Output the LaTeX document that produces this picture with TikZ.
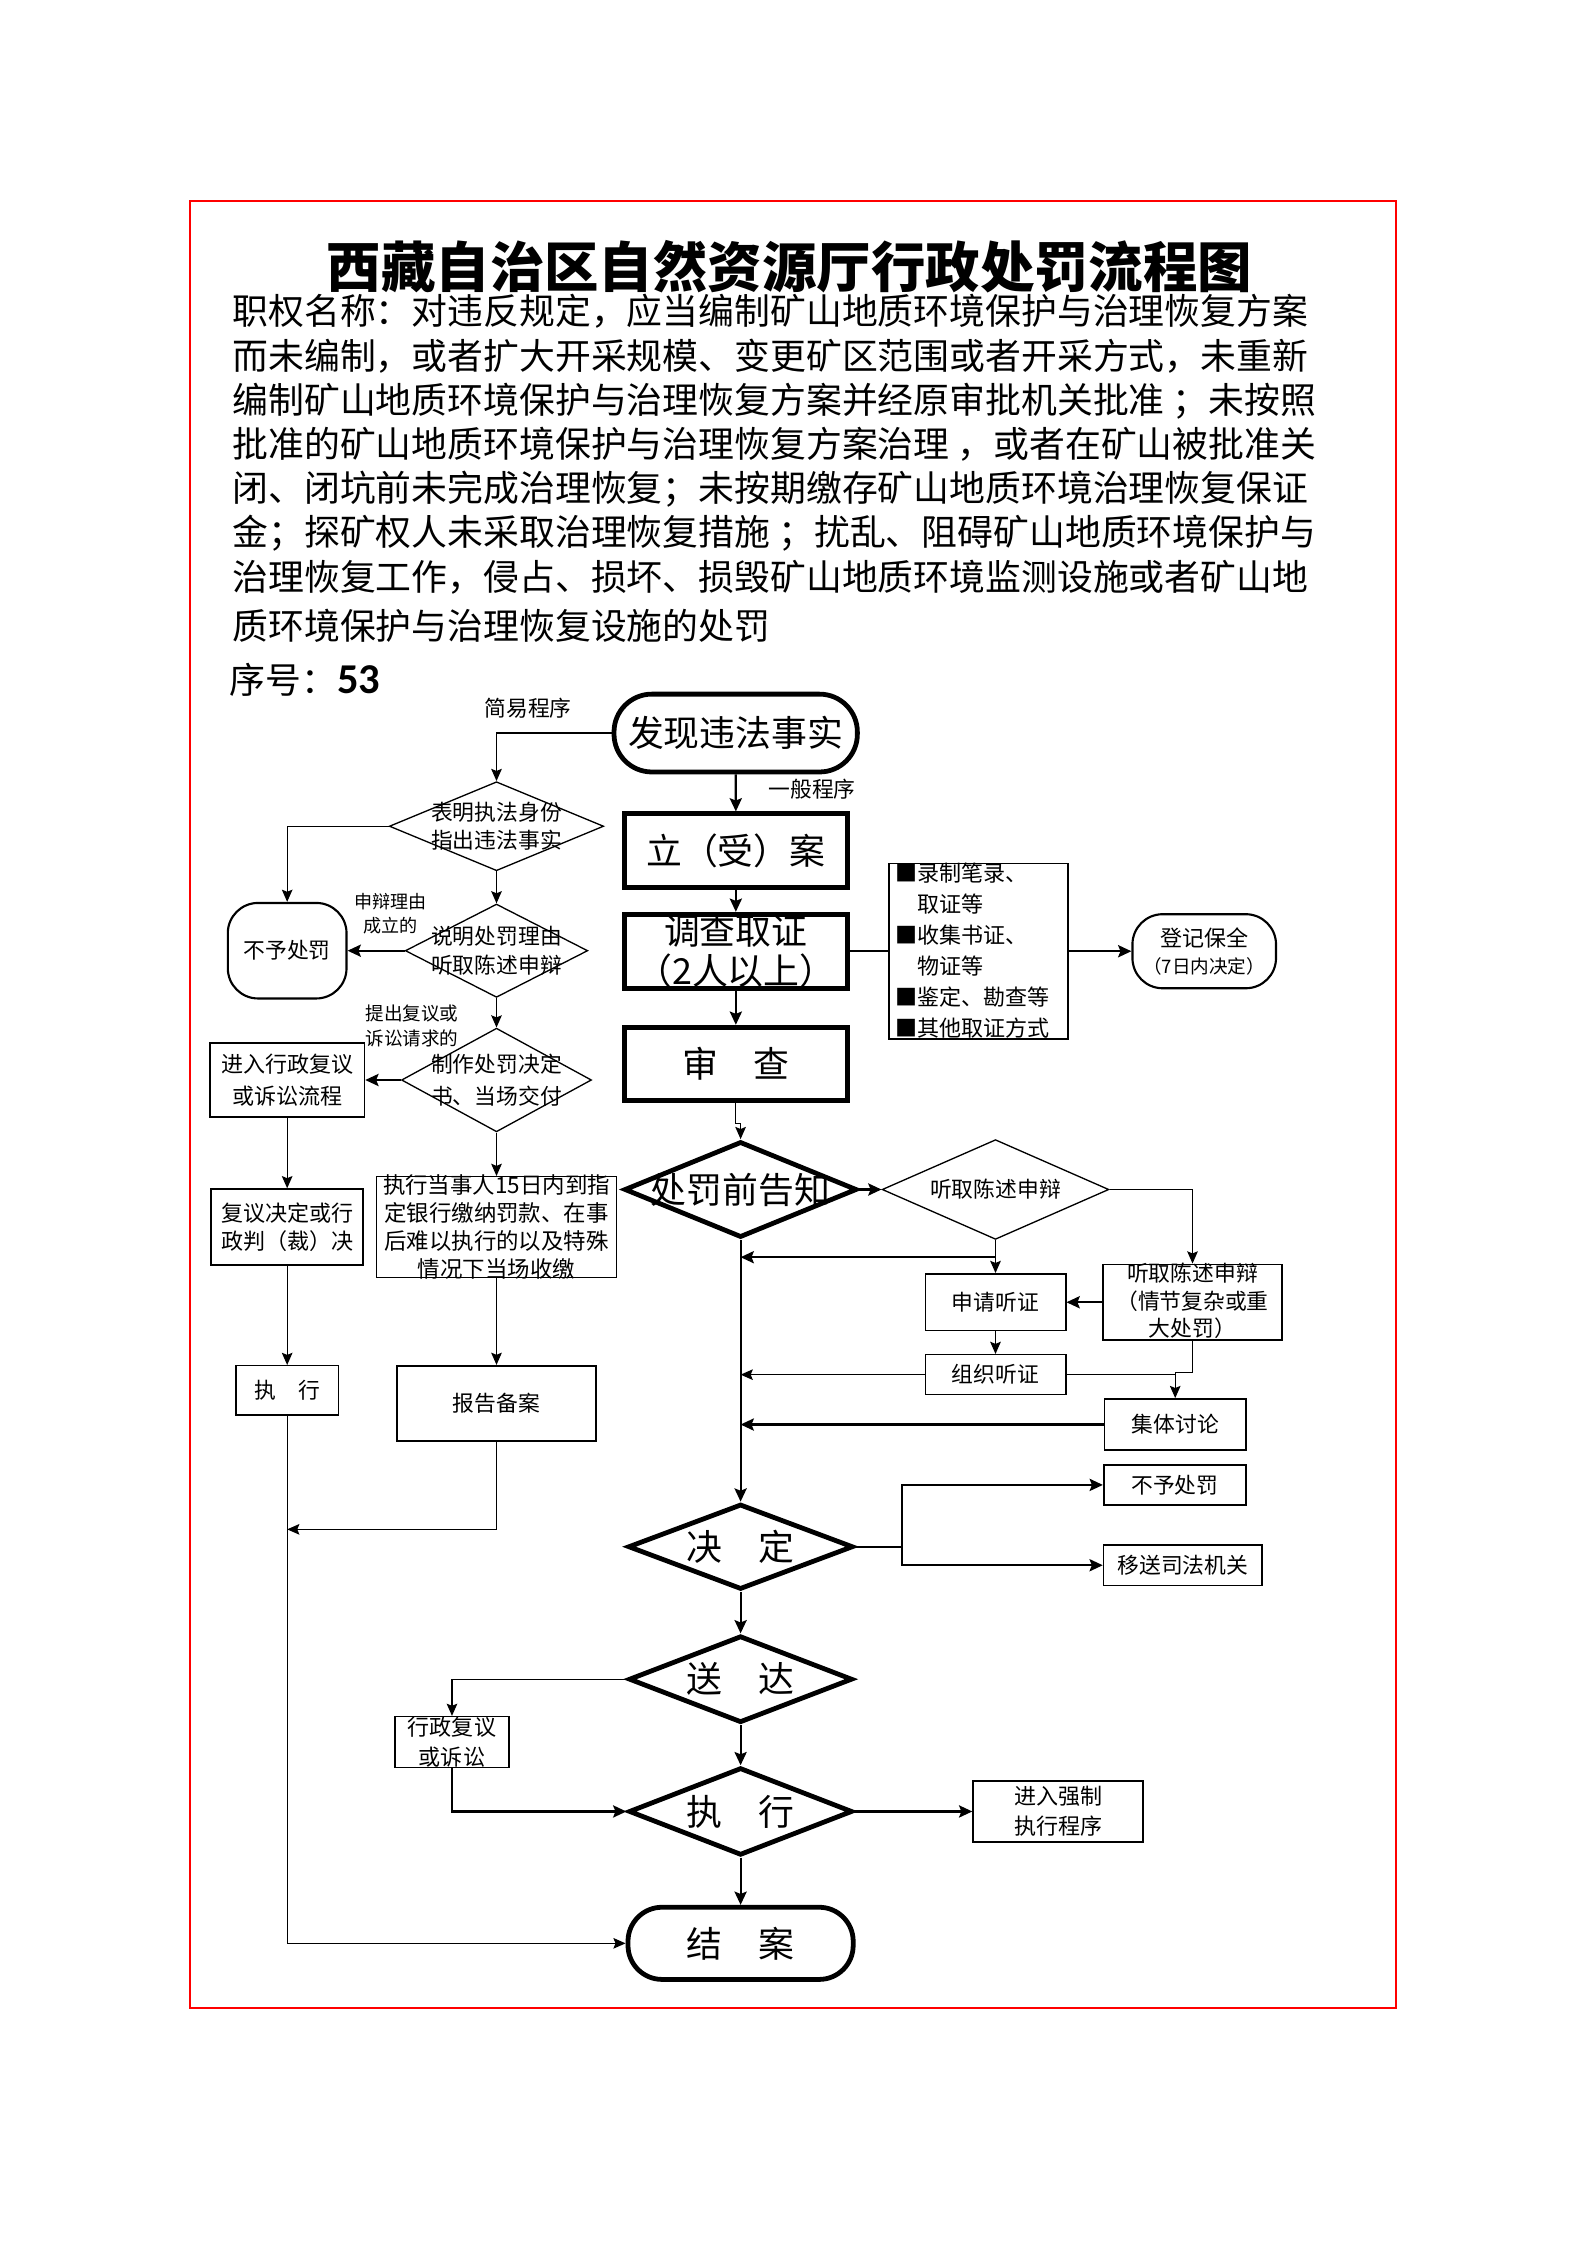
\documentclass[tikz,border=0pt]{standalone}
\usepackage{fontspec}
\setmainfont{Noto Sans CJK SC}
\newfontfamily\numfont{Carlito}
\usetikzlibrary{arrows.meta,calc,shapes.geometric}

\begin{document}
\begin{tikzpicture}[
    y=-1cm,
    line cap=butt, line join=miter,
    conn/.style={black, line width=0.45pt},
    connm/.style={black, line width=0.8pt},
    arr/.style={conn, -{Stealth[length=4.6pt, width=4pt, inset=0.8pt]}},
    arrm/.style={connm, -{Stealth[length=5pt, width=4.6pt, inset=0.9pt]}},
    bigtxt/.style={font=\fontsize{13.5}{15}\selectfont, inner sep=0pt, align=center},
    midtxt/.style={font=\fontsize{8.2}{10.6}\selectfont, inner sep=0pt, align=center},
    smalltxt/.style={font=\fontsize{6.8}{9}\selectfont, inner sep=0pt, align=center},
    plainbox/.style={draw, rectangle, line width=0.55pt, inner sep=0pt},
    boxm/.style={draw, rectangle, line width=0.8pt, inner sep=0pt},
    boxthick/.style={draw, rectangle, line width=1.8pt, inner sep=0pt},
    decision/.style={draw, diamond, line width=0.5pt, inner sep=0pt},
    decisionthick/.style={draw, diamond, line width=1.8pt, inner sep=0pt},
]

% Page, frame and heading
\useasboundingbox (0,0) rectangle (21,29.707);
\draw[red, line width=0.75pt] (2.514,2.66) rectangle (18.473,26.571);
\node[inner sep=0pt, font=\fontsize{20.5}{24}\selectfont\bfseries] (title) at (10.447,3.533) {西藏自治区自然资源厅行政处罚流程图};
\node[anchor=west, align=left, inner sep=0pt, font=\fontsize{13.5}{16.65}\selectfont] (duty) at (3.07,6.198) {职权名称：对违反规定，应当编制矿山地质环境保护与治理恢复方案\\而未编制，或者扩大开采规模、变更矿区范围或者开采方式，未重新\\编制矿山地质环境保护与治理恢复方案并经原审批机关批准 ；未按照\\批准的矿山地质环境保护与治理恢复方案治理 ，或者在矿山被批准关\\闭、闭坑前未完成治理恢复；未按期缴存矿山地质环境治理恢复保证\\金；探矿权人未采取治理恢复措施 ；扰乱、阻碍矿山地质环境保护与\\治理恢复工作，侵占、损坏、损毁矿山地质环境监测设施或者矿山地\\[1.9pt]质环境保护与治理恢复设施的处罚};
\node[anchor=west, inner sep=0pt, font=\fontsize{13.5}{16}\selectfont] (serial) at (3.03,9.0) {序号：{\numfont\bfseries\fontsize{16}{16}\selectfont 53}};

% General procedure (centre column)
\node[boxthick, rounded corners=0.5cm, minimum width=3.22cm, minimum height=1.03cm, bigtxt] (find) at (9.735,9.70) {发现违法事实};
\node[midtxt] (general) at (10.745,10.44) {一般程序};
\node[boxthick, minimum width=2.95cm, minimum height=0.97cm, bigtxt] (filecase) at (9.737,11.254) {立（受）案};
\node[boxthick, minimum width=2.95cm, minimum height=0.98cm] (investigate) at (9.737,12.587) {};
\node[bigtxt] (investigate-t) at (investigate) {调查取证\\（2人以上）};
\node[boxthick, minimum width=2.95cm, minimum height=0.97cm, bigtxt] (review) at (9.737,14.077) {审\quad 查};

% Evidence list and preservation
\node[plainbox, minimum width=2.37cm, minimum height=2.325cm] (evidence) at (12.947,12.587) {};
\node[midtxt, anchor=west, align=left, font=\fontsize{8.3}{11.65}\selectfont] (evidence-t) at (11.838,12.582) {■录制笔录、\\\hspace*{1em}取证等\\■收集书证、\\\hspace*{1em}物证等\\■鉴定、勘查等\\■其他取证方式};
\node[boxm, rounded corners=0.4cm, minimum width=1.90cm, minimum height=0.98cm, align=center, font=\fontsize{8.3}{10}\selectfont] (keep) at (15.935,12.587) {登记保全\\{\fontsize{7}{10}\selectfont （7日内决定）}};

% Notice and hearing
\node[decisionthick, minimum width=3.08cm, minimum height=1.27cm] (notice) at (9.80,15.74) {};
\node[bigtxt] (notice-t) at (notice) {处罚前告知};
\node[decision, minimum width=3.0cm, minimum height=1.32cm] (hear) at (13.173,15.74) {};
\node[midtxt] (hear-t) at (hear) {听取陈述申辩};
\node[plainbox, line width=0.7pt, minimum width=2.36cm, minimum height=1.0cm] (complex) at (15.78,17.232) {};
\node[midtxt, font=\fontsize{8.2}{10.35}\selectfont] (complex-t) at (15.78,17.213) {听取陈述申辩\\（情节复杂或重\\大处罚）};
\node[plainbox, minimum width=1.86cm, minimum height=0.754cm, midtxt] (apply) at (13.173,17.232) {申请听证};
\node[plainbox, minimum width=1.86cm, minimum height=0.528cm, midtxt] (organize) at (13.173,18.19) {组织听证};
\node[plainbox, line width=0.7pt, minimum width=1.87cm, minimum height=0.675cm, midtxt] (discuss) at (15.551,18.85) {集体讨论};

% Decision and its outcomes
\node[decisionthick, minimum width=2.98cm, minimum height=1.13cm] (decide) at (9.80,20.467) {};
\node[bigtxt] (decide-t) at (decide) {决\quad 定};
\node[plainbox, line width=0.7pt, minimum width=1.88cm, minimum height=0.528cm, midtxt] (nopen2) at (15.546,19.649) {不予处罚};
\node[plainbox, minimum width=2.10cm, minimum height=0.535cm, midtxt] (transfer) at (15.652,20.712) {移送司法机关};
\coordinate (split) at (11.936,20.467);

% Delivery, execution, closing
\node[decisionthick, minimum width=2.96cm, minimum height=1.15cm] (deliver) at (9.80,22.22) {};
\node[bigtxt] (deliver-t) at (deliver) {送\quad 达};
\node[plainbox, line width=0.6pt, minimum width=1.507cm, minimum height=0.67cm] (review2) at (5.981,23.051) {};
\node[midtxt, font=\fontsize{8.3}{11.3}\selectfont] (review2-t) at (5.981,23.047) {行政复议\\或诉讼};
\node[decisionthick, minimum width=2.96cm, minimum height=1.16cm] (exec) at (9.80,23.97) {};
\node[bigtxt] (exec-t) at (exec) {执\quad 行};
\node[boxm, minimum width=2.25cm, minimum height=0.80cm, midtxt, font=\fontsize{8.3}{11.3}\selectfont] (force) at (14.005,23.97) {进入强制\\执行程序};
\node[boxthick, rounded corners=0.45cm, minimum width=2.98cm, minimum height=0.955cm, bigtxt] (close) at (9.80,25.715) {结\quad 案};

% Simple procedure (left columns)
\node[midtxt, font=\fontsize{8.2}{10}\selectfont] (simple) at (6.987,9.369) {简易程序};
\node[decision, minimum width=2.836cm, minimum height=1.178cm] (identify) at (6.57,10.933) {};
\node[midtxt] (identify-t) at (identify) {表明执法身份\\指出违法事实};
\node[boxm, rounded corners=0.4cm, minimum width=1.571cm, minimum height=1.264cm, midtxt] (nopen) at (3.80,12.58) {不予处罚};
\node[decision, minimum width=2.415cm, minimum height=1.235cm] (explain) at (6.57,12.58) {};
\node[midtxt] (explain-t) at (explain) {说明处罚理由\\听取陈述申辩};
\node[smalltxt] (reason) at (5.167,12.091) {申辩理由\\成立的};
\node[decision, minimum width=2.514cm, minimum height=1.372cm] (written) at (6.57,14.291) {};
\node[midtxt, font=\fontsize{8.2}{11.9}\selectfont] (written-t) at (written) {制作处罚决定\\书、当场交付};
\node[smalltxt, font=\fontsize{7}{9.4}\selectfont] (request) at (5.452,13.574) {提出复议或\\诉讼请求的};
\node[plainbox, line width=0.65pt, minimum width=2.044cm, minimum height=0.971cm, midtxt, font=\fontsize{8.3}{11.9}\selectfont] (appeal) at (3.80,14.291) {进入行政复议\\或诉讼流程};
\node[boxm, minimum width=2.009cm, minimum height=1.002cm, midtxt, font=\fontsize{8.3}{10.65}\selectfont] (result) at (3.80,16.239) {复议决定或行\\政判（裁）决};
\node[plainbox, minimum width=1.354cm, minimum height=0.652cm, midtxt] (execl) at (3.80,18.398) {执\quad 行};
\node[plainbox, minimum width=3.172cm, minimum height=1.331cm] (pay) at (6.57,16.236) {};
\node[midtxt, font=\fontsize{8.45}{10.45}\selectfont] (pay-t) at (pay) {执行当事人15日内到指\\定银行缴纳罚款、在事\\后难以执行的以及特殊\\情况下当场收缴};
\node[plainbox, line width=0.6pt, minimum width=2.629cm, minimum height=0.997cm, midtxt] (report) at (6.57,18.57) {报告备案};
\coordinate (rejoin) at (3.80,20.237);

% Connectors, simple procedure
\draw[arr] (find.west) -| (identify.north);
\draw[arr] (identify.west) -| (nopen.north);
\draw[arr] (identify.south) -- (explain.north);
\draw[arrm] (explain.west) -- (nopen.east);
\draw[arr] (explain.south) -- (written.north);
\draw[arrm] (written.west) -- (appeal.east);
\draw[arr] (appeal.south) -- (result.north);
\draw[arr] (result.south) -- (execl.north);
\draw[arr] (written.south) -- (pay.north);
\draw[arr] (pay.south) -- (report.north);
\draw[arr] (report.south) |- (rejoin);
\draw[arr] (execl.south) |- (close.west);

% Connectors, general procedure
\draw[arrm] (find.south) -- (filecase.north);
\draw[arrm] (filecase.south) -- (investigate.north);
\draw[arrm] (investigate.south) -- (review.north);
\draw[connm] (investigate.east) -- (evidence.west);
\draw[arrm] (evidence.east) -- (keep.west);
\draw[arr] (review.south) -- ++(0,0.27) -| (notice.north);
\draw[arrm] (notice.east) -- (hear.west);
\draw[arr] (hear.east) -| (complex.north);
\draw[arr] (hear.south) -- (apply.north);
\coordinate (hj) at ($(hear.south)!0.52!(apply.north)$);
\draw[arrm] (hj) -- (hj -| notice.south);
\draw[arrm] (complex.west) -- (apply.east);
\draw[arr] (apply.south) -- (organize.north);
\draw[arr] (organize.west) -- (organize.west -| notice.south);
\draw[conn] (organize.east) -- (organize.east -| discuss.north);
\draw[arr] (complex.south) -- ++(0,0.42) -| (discuss.north);
\draw[arrm] (discuss.west) -- (discuss.west -| notice.south);
\draw[arrm] (notice.south) -- (decide.north);
\draw[connm] (decide.east) -- (split);
\draw[arrm] (split) |- (nopen2.west);
\draw[arrm] (split) |- (transfer.west);
\draw[arrm] (decide.south) -- (deliver.north);
\draw[arr] (deliver.west) -| (review2.north);
\draw[arrm] (review2.south) |- (exec.west);
\draw[arrm] (deliver.south) -- (exec.north);
\draw[arrm] (exec.east) -- (force.west);
\draw[arrm] (exec.south) -- (close.north);

\end{tikzpicture}
\end{document}
